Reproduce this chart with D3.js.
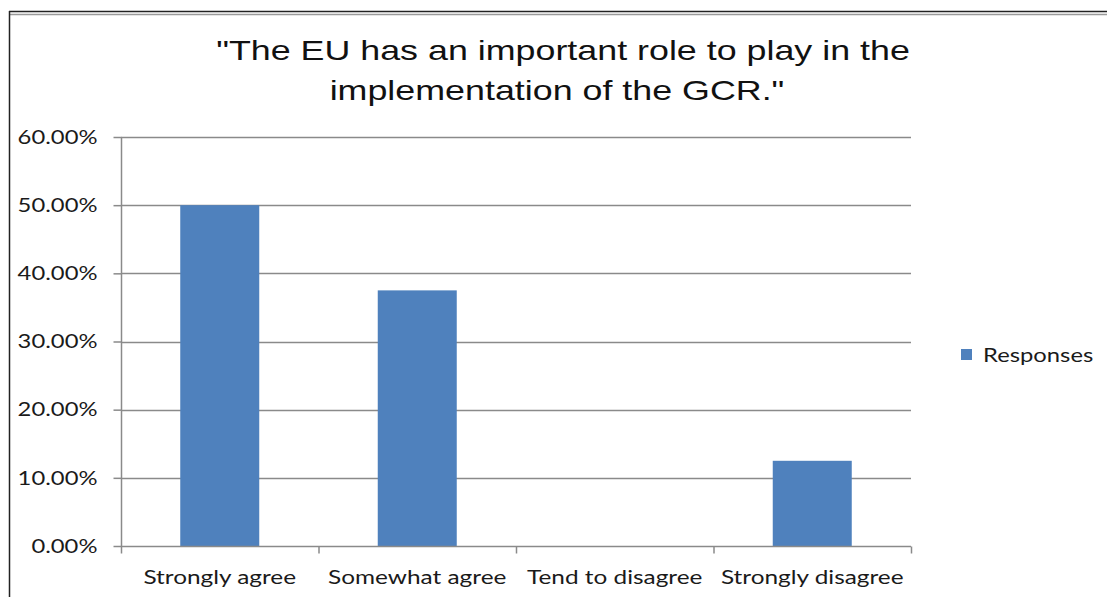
<!DOCTYPE html>
<html>
<head>
<meta charset="utf-8">
<script src="https://cdn.jsdelivr.net/npm/d3@7"></script>
<style>
  body { margin: 0; background: #fff; }
  svg { display: block; }
</style>
</head>
<body>
<div id="chart"></div>
<script>
  let categories = ["Strongly agree", "Somewhat agree", "Tend to disagree", "Strongly disagree"]
  let responses = [0.50, 0.375, 0, 0.125]
  let yTicks = [0, 0.1, 0.2, 0.3, 0.4, 0.5, 0.6]
  let titleLines = ["\"The EU has an important role to play in the", "implementation of the GCR.\""]
  let seriesName = "Responses"

  let width = 1107, height = 597
  let margin = {left: 121, right: 196, top: 137, bottom: 51}
  let labelFont = "Lato, 'Open Sans', sans-serif"
  let stretch = 1.22   // the source picture is stretched sideways

  let svg = d3.select("#chart").append("svg")
    .attr("width", width)
    .attr("height", height)

  // outer frame (top double line and left edge)
  svg.append("line").attr("x1", 9).attr("x2", width).attr("y1", 11.5).attr("y2", 11.5)
    .attr("stroke", "#222").attr("stroke-width", 1.5)
  svg.append("line").attr("x1", 10).attr("x2", width).attr("y1", 14.5).attr("y2", 14.5)
    .attr("stroke", "#999").attr("stroke-width", 1.5)
  svg.append("line").attr("x1", 9.5).attr("x2", 9.5).attr("y1", 11).attr("y2", height)
    .attr("stroke", "#222").attr("stroke-width", 1.5)

  let x = d3.scaleBand()
    .domain(categories)
    .range([margin.left, width - margin.right])
    .padding(0)

  let y = d3.scaleLinear()
    .domain([0, 0.6])
    .range([height - margin.bottom, margin.top])

  // gridlines
  svg.append("g").attr("class", "grid")
    .selectAll("line")
    .data(yTicks.filter(d => d > 0))
    .enter().append("line")
    .attr("x1", margin.left)
    .attr("x2", width - margin.right)
    .attr("y1", d => Math.round(y(d)) + 0.5)
    .attr("y2", d => Math.round(y(d)) + 0.5)
    .attr("stroke", "#8a8a8a")
    .attr("stroke-width", 1.5)

  // bars
  let barW = x.bandwidth() * 0.4
  svg.append("g").selectAll("rect")
    .data(responses)
    .enter().append("rect")
    .attr("x", (d, i) => x(categories[i]) + (x.bandwidth() - barW) / 2)
    .attr("y", d => y(d))
    .attr("width", barW)
    .attr("height", d => y(0) - y(d))
    .attr("fill", "#4f81bd")

  // y axis
  let yAxis = svg.append("g")
    .attr("transform", "translate(" + (margin.left + 0.5) + ",0)")
    .call(d3.axisLeft(y).tickValues(yTicks).tickSize(8).tickPadding(16)
      .tickFormat(d => (d * 100).toFixed(2) + "%"))
  yAxis.select(".domain").attr("stroke", "#8a8a8a").attr("stroke-width", 1.5)
    .attr("d", "M0," + y(0.6) + "V" + y(0))
  yAxis.selectAll(".tick line").attr("stroke", "#8a8a8a").attr("stroke-width", 1.5)
  yAxis.selectAll(".tick text")
    .attr("x", 0)
    .attr("transform", "translate(-24,0) scale(" + stretch + ",1)")
    .style("font-family", labelFont)
    .style("font-size", "19.5px")
    .attr("fill", "#1a1a1a")

  // x axis
  let xAxis = svg.append("g")
    .attr("transform", "translate(0," + (Math.round(y(0)) + 0.5) + ")")
  xAxis.append("line")
    .attr("x1", margin.left).attr("x2", width - margin.right)
    .attr("stroke", "#8a8a8a").attr("stroke-width", 1.5)
  let bounds = categories.map(c => x(c)).concat([x.range()[1]])
  xAxis.selectAll(".xt")
    .data(bounds)
    .enter().append("line")
    .attr("x1", d => d + 0.5).attr("x2", d => d + 0.5)
    .attr("y1", 0).attr("y2", 7)
    .attr("stroke", "#8a8a8a").attr("stroke-width", 1.5)
  xAxis.selectAll("text")
    .data(categories)
    .enter().append("text")
    .attr("transform", d => "translate(" + (x(d) + x.bandwidth() / 2) + ",37) scale(" + (stretch + 0.03) + ",1)")
    .attr("text-anchor", "middle")
    .style("font-family", labelFont)
    .style("font-size", "19.5px")
    .attr("fill", "#1a1a1a")
    .text(d => d)

  // title
  svg.append("g").selectAll("text")
    .data(titleLines)
    .enter().append("text")
    .attr("transform", (d, i) => "translate(" + (563 - i * 6) + "," + (60 + i * 40) + ") scale(1.28,1)")
    .attr("text-anchor", "middle")
    .style("font-family", "'Liberation Sans', Arial, sans-serif")
    .style("font-size", "28px")
    .attr("fill", "#111")
    .text(d => d)

  // legend
  let legend = svg.append("g").attr("transform", "translate(961,349)")
  legend.append("rect").attr("width", 11).attr("height", 11).attr("fill", "#4f81bd")
  legend.append("text")
    .attr("transform", "translate(22,13) scale(" + stretch + ",1)")
    .style("font-family", labelFont)
    .style("font-size", "19.5px")
    .attr("fill", "#1a1a1a")
    .text(seriesName)
</script>
</body>
</html>
